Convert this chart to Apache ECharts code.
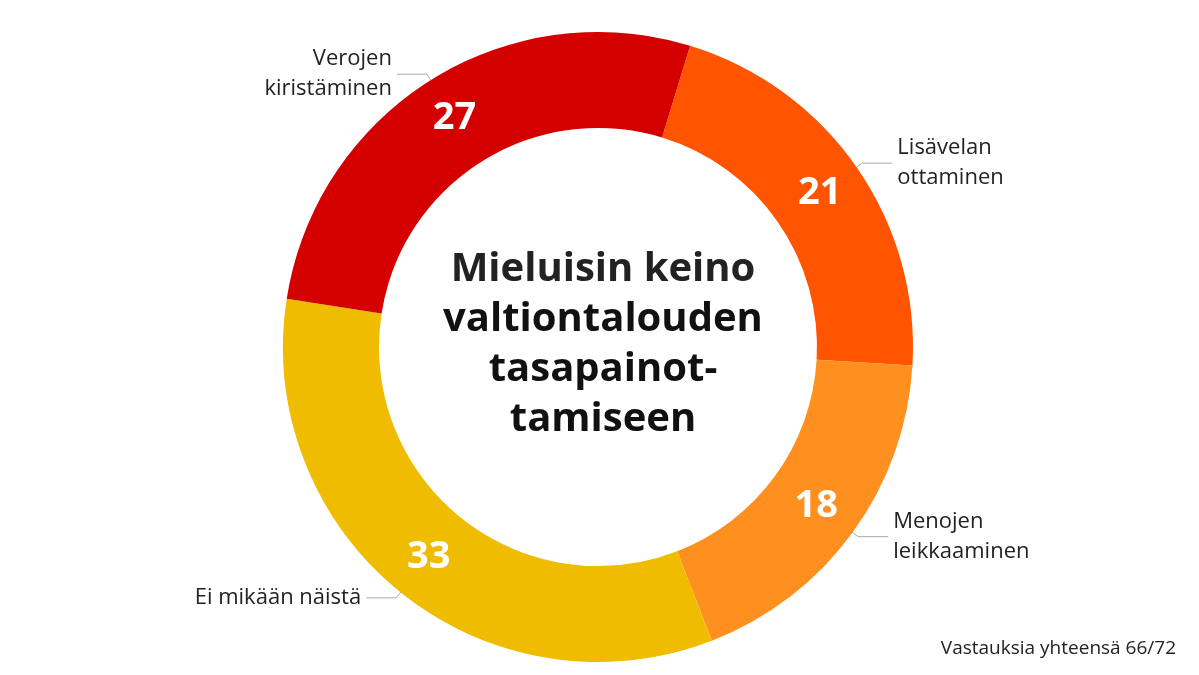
<!DOCTYPE html>
<html><head><meta charset="utf-8">
<script src="https://cdn.jsdelivr.net/npm/echarts@6/dist/echarts.min.js"></script>
<style>html,body{margin:0;background:#fff}#c{width:1199px;height:675px}</style>
</head><body><div id="c"></div>
<script>
const categories = ['Lisävelan\nottaminen','Menojen\nleikkaaminen','Ei mikään näistä','Verojen\nkiristäminen'];
const values = [21, 18, 33, 27];
const colors = ['#ff5500','#ff9020','#f0bc00','#d40000'];
const chart = echarts.init(document.getElementById('c'));
const data = categories.map((n,i)=>({name:n,value:values[i],itemStyle:{color:colors[i]}}));
const common = {type:'pie',center:[598,347],radius:[219,315],startAngle:73,clockwise:true,silent:true};
chart.setOption({
  animation:false,
  title:[{
    text:'{a|Mieluisin keino}\n{b|valtiontalouden}\n{b|tasapainot-}\n{b|tamiseen}',
    left:598,top:240,textAlign:'center',
    textStyle:{rich:{a:{fontFamily:'Open Sans',fontSize:40,color:'#222',lineHeight:50},b:{fontFamily:'Open Sans',fontSize:40,fontWeight:'bold',color:'#111',lineHeight:50}}}
  },{
    text:'Vastauksia yhteensä 66/72',right:18,bottom:12,
    textStyle:{fontFamily:'Open Sans',fontSize:19,fontWeight:'normal',color:'#222'}
  }],
  series:[
    Object.assign({},common,{data:data,
      label:{position:'inside',formatter:'{c}',color:'#fff',fontSize:38,fontWeight:'bold',fontFamily:'Open Sans'},
      labelLine:{show:false}}),
    Object.assign({},common,{radius:[219,300],
      data:data.map(d=>({name:d.name,value:d.value,itemStyle:{color:'transparent'}})),
      label:{position:'outside',formatter:'{b}',color:'#222',fontSize:22,fontFamily:'Open Sans',lineHeight:30},
      labelLine:{show:true,length:22,length2:30,lineStyle:{color:'#aaa',width:1}}})
  ]
});
</script></body></html>
